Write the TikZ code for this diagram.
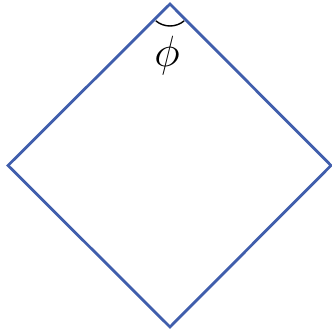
\documentclass[tikz,border=0pt]{standalone}
\usetikzlibrary{positioning}
\definecolor{edgeblue}{RGB}{64,94,172}

\begin{document}
\begin{tikzpicture}[
    x=0.02cm, y=0.02cm,
    side/.style={draw=edgeblue, line width=1.6pt, line join=miter},
    anglearc/.style={draw=black, line width=0.8pt},
    lbl/.style={font=\fontsize{29}{32}\selectfont, inner sep=0pt}
  ]
    \useasboundingbox (0,0) rectangle (332,331);

    \coordinate (top) at (170,327);
    \coordinate (left) at (8,165.5);
    \coordinate (bottom) at (170,4);
    \coordinate (right) at (331,165.5);

    \draw[side] (top) -- (left) -- (bottom) -- (right) -- cycle;
    \draw[anglearc] ([shift={(-130:22)}]top) arc (-130:-50:22);
    \node[lbl] (phi) at (167,275) {$\phi$};

  \end{tikzpicture}
\end{document}
